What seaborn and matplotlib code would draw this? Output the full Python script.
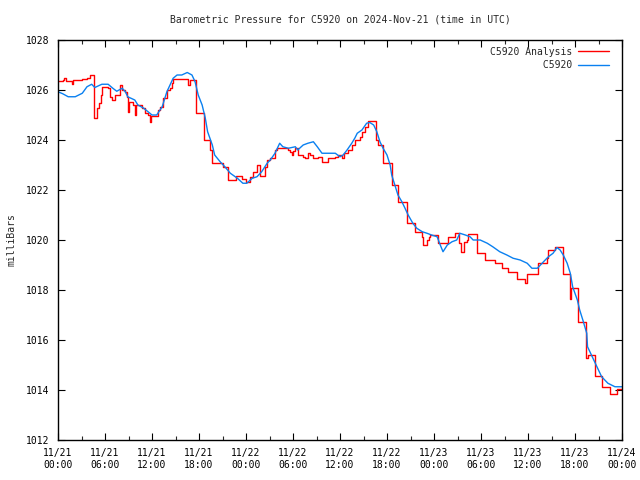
import numpy as np
import pandas as pd
import matplotlib
matplotlib.use("Agg")
import matplotlib.pyplot as plt
import matplotlib.dates as mdates
import seaborn as sns

# ---- data (hours since 2024-11-21 00:00 UTC, pressure in mb) ----
analysis_hours = [0, 0.6, 0.8, 1.0, 1.8, 1.9, 3.1, 3.7, 4.1, 4.6, 5.0, 5.2, 5.5, 5.6, 6.4, 6.6, 6.9, 7.3,
                  7.9, 8.2, 8.6, 8.8, 8.9, 9.1, 9.6, 9.8, 10.0, 10.7, 11.1, 11.5, 11.7, 11.9, 12.8, 13.0,
                  13.4, 13.9, 14.3, 14.6, 14.7, 16.6, 16.9, 17.6, 18.6, 19.4, 19.7, 21.1, 21.7, 22.7,
                  23.5, 24.0, 24.5, 24.9, 25.4, 25.8, 26.4, 26.7, 27.1, 27.7, 28.0, 29.4, 29.6, 29.9,
                  30.0, 30.3, 30.6, 31.3, 31.5, 31.9, 32.2, 32.6, 33.2, 33.7, 34.5, 35.4, 35.7, 36.3,
                  36.5, 37.0, 37.5, 37.9, 38.6, 38.8, 39.2, 39.6, 40.6, 40.9, 41.5, 42.6, 43.4, 44.6,
                  45.6, 46.5, 46.6, 47.1, 47.3, 47.5, 48.5, 49.8, 50.7, 51.2, 51.4, 51.8, 52.2, 52.3,
                  53.5, 54.5, 55.8, 56.7, 57.4, 58.6, 59.6, 59.9, 61.3, 62.4, 62.6, 63.4, 64.5, 65.4,
                  65.5, 66.4, 67.4, 67.6, 68.6, 69.4, 70.5, 71.4, 72.0]
analysis_mb = [1026.35, 1026.4, 1026.47, 1026.35, 1026.23, 1026.4, 1026.45, 1026.5, 1026.6, 1024.87,
               1025.27, 1025.47, 1025.8, 1026.13, 1026.07, 1025.73, 1025.6, 1025.8, 1026.2, 1026.0,
               1025.93, 1025.73, 1025.13, 1025.53, 1025.4, 1025.0, 1025.4, 1025.3, 1025.07, 1025.0,
               1024.73, 1024.95, 1025.2, 1025.33, 1025.67, 1026.0, 1026.07, 1026.27, 1026.44, 1026.2,
               1026.4, 1025.07, 1024.0, 1023.6, 1023.07, 1022.93, 1022.4, 1022.56, 1022.45, 1022.33,
               1022.53, 1022.73, 1023.0, 1022.56, 1022.93, 1023.2, 1023.27, 1023.6, 1023.67, 1023.6,
               1023.53, 1023.4, 1023.55, 1023.7, 1023.4, 1023.33, 1023.27, 1023.47, 1023.4, 1023.27,
               1023.33, 1023.13, 1023.27, 1023.33, 1023.4, 1023.27, 1023.47, 1023.6, 1023.8, 1024.0,
               1024.13, 1024.31, 1024.53, 1024.76, 1024.0, 1023.8, 1023.07, 1022.2, 1021.53, 1020.67,
               1020.33, 1020.13, 1019.8, 1020.0, 1020.13, 1020.2, 1019.9, 1020.13, 1020.3, 1019.87,
               1019.53, 1019.93, 1020.0, 1020.24, 1019.47, 1019.2, 1019.1, 1018.87, 1018.73, 1018.43,
               1018.27, 1018.63, 1019.07, 1019.3, 1019.6, 1019.73, 1018.64, 1017.64, 1018.1, 1016.73,
               1015.27, 1015.4, 1014.57, 1014.13, 1013.84, 1014.03, 1014.03]

obs_hours = [0, 0.6, 1.3, 2.2, 3.1, 3.7, 4.3, 4.7, 5.6, 6.4, 7.0, 7.5, 8.2, 8.6, 8.9, 9.8, 10.2, 10.9,
             11.5, 12.0, 12.6, 13.3, 13.9, 14.7, 15.2, 15.8, 16.5, 17.1, 17.5, 17.9, 18.4, 18.8, 19.1,
             19.7, 20.0, 20.7, 21.3, 22.0, 22.9, 23.6, 24.1, 24.8, 25.4, 26.0, 26.7, 27.1, 27.7, 28.3,
             28.7, 29.4, 30.3, 30.6, 31.3, 31.9, 32.6, 33.1, 33.7, 35.4, 36.0, 36.4, 36.9, 37.5, 37.9,
             38.2, 38.8, 39.4, 39.8, 40.3, 40.7, 41.1, 41.5, 42.0, 42.4, 42.6, 43.0, 43.4, 43.9, 44.3,
             44.7, 45.3, 45.8, 46.5, 47.1, 47.7, 48.4, 48.8, 49.15, 49.7, 50.3, 50.9, 51.3, 52.0, 52.6,
             53.0, 53.9, 54.8, 55.5, 56.4, 57.3, 58.1, 59.0, 59.9, 60.5, 61.2, 61.8, 62.6, 63.2, 63.7,
             64.1, 64.5, 65.0, 65.4, 65.7, 66.3, 66.6, 67.0, 67.5, 67.6, 68.2, 68.8, 69.4, 70.2, 71.1, 72.0]
obs_mb = [1025.93, 1025.85, 1025.73, 1025.73, 1025.87, 1026.13, 1026.23, 1026.1, 1026.23, 1026.23,
          1026.07, 1025.95, 1026.07, 1025.93, 1025.73, 1025.6, 1025.4, 1025.28, 1025.13, 1025.0, 1025.0,
          1025.33, 1025.93, 1026.47, 1026.6, 1026.6, 1026.7, 1026.6, 1026.33, 1025.8, 1025.4, 1024.88,
          1024.33, 1023.8, 1023.4, 1023.13, 1022.93, 1022.67, 1022.47, 1022.27, 1022.27, 1022.47,
          1022.53, 1022.73, 1023.07, 1023.2, 1023.47, 1023.87, 1023.73, 1023.67, 1023.73, 1023.6,
          1023.8, 1023.87, 1023.93, 1023.73, 1023.47, 1023.47, 1023.33, 1023.4, 1023.6, 1023.87,
          1024.08, 1024.27, 1024.4, 1024.67, 1024.7, 1024.6, 1024.33, 1023.93, 1023.67, 1023.4, 1023.0,
          1022.6, 1022.2, 1021.8, 1021.53, 1021.27, 1021.0, 1020.67, 1020.47, 1020.33, 1020.27, 1020.2,
          1020.13, 1019.8, 1019.53, 1019.8, 1019.93, 1020.0, 1020.27, 1020.2, 1020.13, 1020.0, 1020.0,
          1019.87, 1019.73, 1019.53, 1019.4, 1019.27, 1019.2, 1019.07, 1018.87, 1018.87, 1019.07,
          1019.33, 1019.47, 1019.7, 1019.6, 1019.4, 1019.07, 1018.67, 1018.13, 1017.6, 1017.2, 1016.8,
          1016.27, 1015.73, 1015.33, 1014.93, 1014.53, 1014.27, 1014.13, 1014.13]

title = "Barometric Pressure for C5920 on 2024-Nov-21 (time in UTC)"
ylabel = "milliBars"
series_names = ["C5920 Analysis", "C5920"]

t0 = pd.Timestamp("2024-11-21 00:00")
df_a = pd.DataFrame({"time": t0 + pd.to_timedelta(analysis_hours, unit="h"), "mb": analysis_mb})
df_o = pd.DataFrame({"time": t0 + pd.to_timedelta(obs_hours, unit="h"), "mb": obs_mb})

sns.set_style("ticks")
plt.rcParams["font.family"] = ["DejaVu Sans Mono"]
plt.rcParams["font.size"] = 7

fig = plt.figure(figsize=(6.4, 4.8), dpi=100)
ax = fig.add_axes([58 / 640, 40 / 480, 564 / 640, 400 / 480])

sns.lineplot(data=df_a, x="time", y="mb", ax=ax, color="#ff0000", lw=1.0,
             drawstyle="steps-post", estimator=None, label=series_names[0])
sns.lineplot(data=df_o, x="time", y="mb", ax=ax, color="#0a80f0", lw=1.0,
             estimator=None, label="         " + series_names[1])

ax.set_xlim(t0, t0 + pd.Timedelta(hours=72))
ax.set_ylim(1012, 1028)
ax.set_yticks(np.arange(1012, 1029, 2))
ax.xaxis.set_major_locator(mdates.HourLocator(byhour=[0, 6, 12, 18]))
ax.xaxis.set_minor_locator(mdates.HourLocator(byhour=[3, 9, 15, 21]))
ax.xaxis.set_major_formatter(mdates.DateFormatter("%m/%d\n%H:%M"))
ax.set_xlabel("")
ax.set_ylabel("")

ax.tick_params(axis="both", which="major", direction="in", length=5, width=0.8,
               top=True, right=True, labelsize=7, colors="black")
ax.tick_params(axis="x", which="major", pad=6)
ax.tick_params(axis="y", which="major", pad=6)
ax.tick_params(axis="x", which="minor", direction="in", length=3, width=0.8, top=True)
for s in ax.spines.values():
    s.set_visible(True)
    s.set_linewidth(1.0)
    s.set_color("black")

leg = ax.legend(loc="upper right", bbox_to_anchor=(1 - 6 / 564, 1.0), frameon=False,
                markerfirst=False, handlelength=3.2, handletextpad=0.6, borderaxespad=0.3,
                labelspacing=0.35, prop={"size": 7})

fig.text(340 / 640, 1 - 20 / 480, title, ha="center", va="center", fontsize=7)
fig.text(12 / 640, 0.5, ylabel, ha="center", va="center", rotation=90, fontsize=7)

fig.savefig("out.png", dpi=100)
